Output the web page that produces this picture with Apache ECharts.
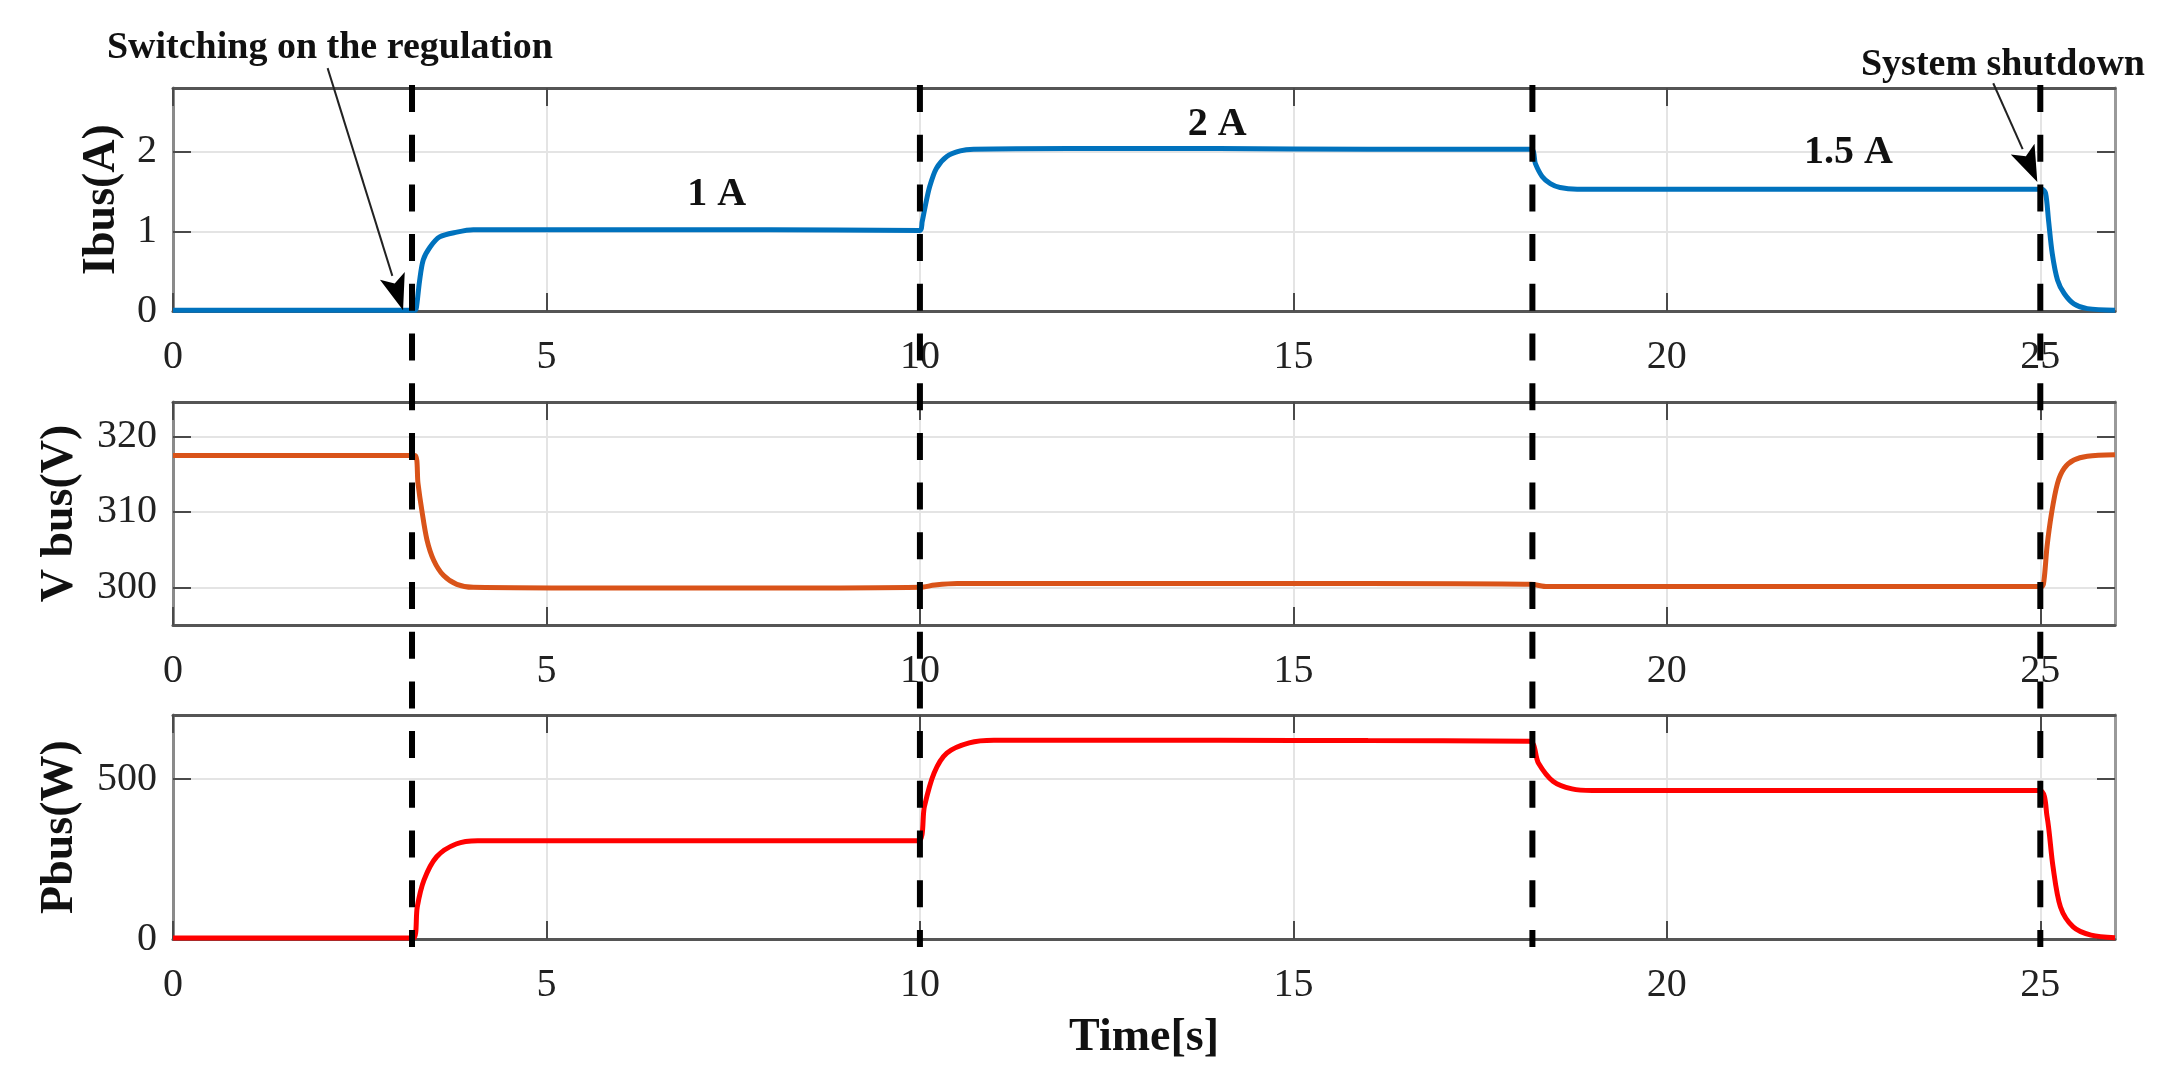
<!DOCTYPE html>
<html>
<head>
<meta charset="utf-8">
<title>Ibus / Vbus / Pbus</title>
<script src="https://cdn.jsdelivr.net/npm/echarts@6/dist/echarts.min.js"></script>
<style>
html, body { margin: 0; padding: 0; background: #fff; }
#chart { width: 2164px; height: 1074px; }
</style>
</head>
<body>
<div id="chart"></div>
<script>
// readings taken off the reference figure (time in s)
const ibusTime = [0, 3.0, 3.24, 3.26, 3.30, 3.35, 3.44, 3.57, 3.80, 4.02, 6, 8, 10.0, 10.03, 10.07, 10.13, 10.22, 10.36, 10.54, 10.72, 12, 14, 16, 18.18, 18.24, 18.33, 18.44, 18.57, 18.80, 20, 22, 24, 25.02, 25.07, 25.11, 25.16, 25.23, 25.32, 25.45, 25.63, 26];
const ibusVal = [0.01, 0.01, 0.01, 0.05, 0.37, 0.64, 0.80, 0.93, 0.99, 1.02, 1.02, 1.02, 1.01, 1.12, 1.31, 1.56, 1.79, 1.94, 2.01, 2.03, 2.04, 2.04, 2.03, 2.03, 1.85, 1.69, 1.60, 1.55, 1.53, 1.53, 1.53, 1.53, 1.53, 1.48, 1.14, 0.72, 0.39, 0.22, 0.09, 0.03, 0.01];

const vbusTime = [0, 3.0, 3.24, 3.28, 3.33, 3.40, 3.49, 3.62, 3.80, 4.02, 6, 8, 10.0, 10.2, 10.5, 12, 14, 16, 18.18, 18.4, 20, 22, 24, 25.02, 25.05, 25.09, 25.15, 25.23, 25.32, 25.45, 25.63, 26];
const vbusVal = [317.5, 317.5, 317.5, 313.8, 310.3, 306.3, 303.6, 301.6, 300.4, 300.0, 299.9, 299.9, 300.0, 300.3, 300.5, 300.5, 300.5, 300.5, 300.4, 300.1, 300.1, 300.1, 300.1, 300.1, 301.0, 305.4, 309.8, 313.8, 315.8, 316.9, 317.4, 317.6];

const pbusTime = [0, 3.0, 3.22, 3.27, 3.36, 3.53, 3.79, 4.08, 6, 8, 9.98, 10.06, 10.19, 10.36, 10.66, 10.99, 12, 14, 16, 18.16, 18.28, 18.48, 18.73, 19.0, 20, 22, 24, 24.99, 25.09, 25.17, 25.27, 25.44, 25.68, 26];
const pbusVal = [3, 3, 3, 100, 184, 257, 297, 307, 307, 307, 307, 414, 519, 581, 613, 621, 621, 621, 620, 618, 550, 492, 469, 464, 464, 464, 464, 464, 383, 226, 100, 38, 12, 4];

const switchTimes = [3.2, 10, 18.2, 25];
const xTicks = [0, 5, 10, 15, 20, 25];
const ibusTicks = [0, 1, 2];
const vbusTicks = [300, 310, 320];
const pbusTicks = [0, 500];

// annotations in top-panel data coordinates
const levelNotes = [
  { text: '1 A', at: [7.28, 1.46] },
  { text: '2 A', at: [13.98, 2.34] },
  { text: '1.5 A', at: [22.43, 1.99] }
];
const arrowNotes = [
  { text: 'Switching on the regulation', textAt: [2.1, 3.3], from: [2.07, 3.05], to: [3.08, 0.01] },
  { text: 'System shutdown', textAt: [24.5, 3.09], from: [24.37, 2.86], to: [24.96, 1.62] }
];

const serif = '"Liberation Serif", "Times New Roman", serif';
const plotLeft = 173;
const plotWidth = 1942;
const panels = [
  { top: 88, height: 223, min: 0, max: 2.8, ticks: ibusTicks, name: 'Ibus(A)', gap: 48 },
  { top: 402, height: 223, min: 295, max: 324.6, ticks: vbusTicks, name: 'V bus(V)', gap: 90 },
  { top: 715, height: 224, min: 0, max: 700, ticks: pbusTicks, name: 'Pbus(W)', gap: 90 }
];

const chart = echarts.init(document.getElementById('chart'));

const grid = panels.map(p => ({ left: plotLeft, width: plotWidth, top: p.top, height: p.height }));
grid.push({ left: plotLeft, width: plotWidth, top: 85, height: 862 });

const tickStyle = { color: '#4a4a4a', width: 2 };
const labelStyle = { fontFamily: serif, fontSize: 40, color: '#222' };
const nameStyle = { fontFamily: serif, fontSize: 46, fontWeight: 'bold', color: '#111' };

const xAxis = [];
const yAxis = [];
panels.forEach((p, i) => {
  xAxis.push({
    type: 'value', gridIndex: i, min: 0, max: 26, position: 'bottom',
    axisLine: { show: true, onZero: false, lineStyle: { color: '#555', width: 3 } },
    axisTick: { show: true, inside: true, length: 18, customValues: xTicks, lineStyle: tickStyle },
    axisLabel: Object.assign({ customValues: xTicks, margin: 26 }, labelStyle),
    splitLine: { show: true, lineStyle: { color: '#e4e4e4', width: 2 } },
    name: i === 2 ? 'Time[s]' : '',
    nameLocation: 'middle', nameGap: 76, nameTextStyle: nameStyle
  });
  xAxis.push({
    type: 'value', gridIndex: i, min: 0, max: 26, position: 'top',
    axisLine: { show: true, onZero: false, lineStyle: { color: '#555', width: 3 } },
    axisTick: { show: true, inside: true, length: 18, customValues: xTicks, lineStyle: tickStyle },
    axisLabel: { show: false },
    splitLine: { show: false }
  });
  yAxis.push({
    type: 'value', gridIndex: i, min: p.min, max: p.max, position: 'left',
    axisLine: { show: true, onZero: false, lineStyle: { color: '#8a8a8a', width: 3 } },
    axisTick: { show: true, inside: true, length: 18, customValues: p.ticks, lineStyle: tickStyle },
    axisLabel: Object.assign({ customValues: p.ticks, margin: 16 }, labelStyle),
    splitLine: { show: true, lineStyle: { color: '#e4e4e4', width: 2 } },
    name: p.name, nameLocation: 'middle', nameRotate: 90, nameGap: p.gap, nameTextStyle: nameStyle
  });
  yAxis.push({
    type: 'value', gridIndex: i, min: p.min, max: p.max, position: 'right',
    axisLine: { show: true, onZero: false, lineStyle: { color: '#9a9a9a', width: 3 } },
    axisTick: { show: true, inside: true, length: 18, customValues: p.ticks, lineStyle: tickStyle },
    axisLabel: { show: false },
    splitLine: { show: false }
  });
});
// overlay axes for the dashed switching lines that cross all panels
xAxis.push({ type: 'value', gridIndex: 3, min: 0, max: 26, show: false });
yAxis.push({ type: 'value', gridIndex: 3, min: 0, max: 1, show: false });

function zip(ts, vs) { return ts.map((t, k) => [t, vs[k]]); }

const curves = [
  { data: zip(ibusTime, ibusVal), color: '#0072BD', axis: 0 },
  { data: zip(vbusTime, vbusVal), color: '#D95319', axis: 2 },
  { data: zip(pbusTime, pbusVal), color: '#FF0000', axis: 4 }
];

const series = curves.map(c => ({
  type: 'line', xAxisIndex: c.axis, yAxisIndex: c.axis, data: c.data,
  symbol: 'none', smooth: 0.3, lineStyle: { color: c.color, width: 5 }, silent: true, z: 3
}));
switchTimes.forEach(t => {
  series.push({
    type: 'line', xAxisIndex: 6, yAxisIndex: 6, data: [[t, 1], [t, 0]],
    symbol: 'none', lineStyle: { color: '#000', width: 6, type: [27, 22.7] }, silent: true, z: 6
  });
});

chart.setOption({ animation: false, grid, xAxis, yAxis, series });

// text and arrows placed from top-panel data coordinates
function px(pt) { return chart.convertToPixel({ gridIndex: 0 }, pt); }
const graphics = [];
levelNotes.forEach(n => {
  const p = px(n.at);
  graphics.push({ type: 'text', x: p[0], y: p[1], z: 10,
    style: { text: n.text, font: 'bold 40px ' + serif, fill: '#111', align: 'center', verticalAlign: 'middle' } });
});
arrowNotes.forEach(n => {
  const p = px(n.textAt);
  graphics.push({ type: 'text', x: p[0], y: p[1], z: 10,
    style: { text: n.text, font: 'bold 38px ' + serif, fill: '#111', align: 'center', verticalAlign: 'middle' } });
  const a = px(n.from), b = px(n.to);
  const dx = b[0] - a[0], dy = b[1] - a[1], len = Math.hypot(dx, dy);
  const ux = dx / len, uy = dy / len;
  const head = 36, half = 13;
  const bx = b[0] - ux * head, by = b[1] - uy * head;
  graphics.push({ type: 'line', z: 10, shape: { x1: a[0], y1: a[1], x2: bx, y2: by },
    style: { stroke: '#222', lineWidth: 2 } });
  graphics.push({ type: 'polygon', z: 10,
    shape: { points: [b, [bx - uy * half, by + ux * half], [b[0] - ux * head * 0.78, b[1] - uy * head * 0.78], [bx + uy * half, by - ux * half]] },
    style: { fill: '#000' } });
});
chart.setOption({ graphic: graphics });
</script>
</body>
</html>
